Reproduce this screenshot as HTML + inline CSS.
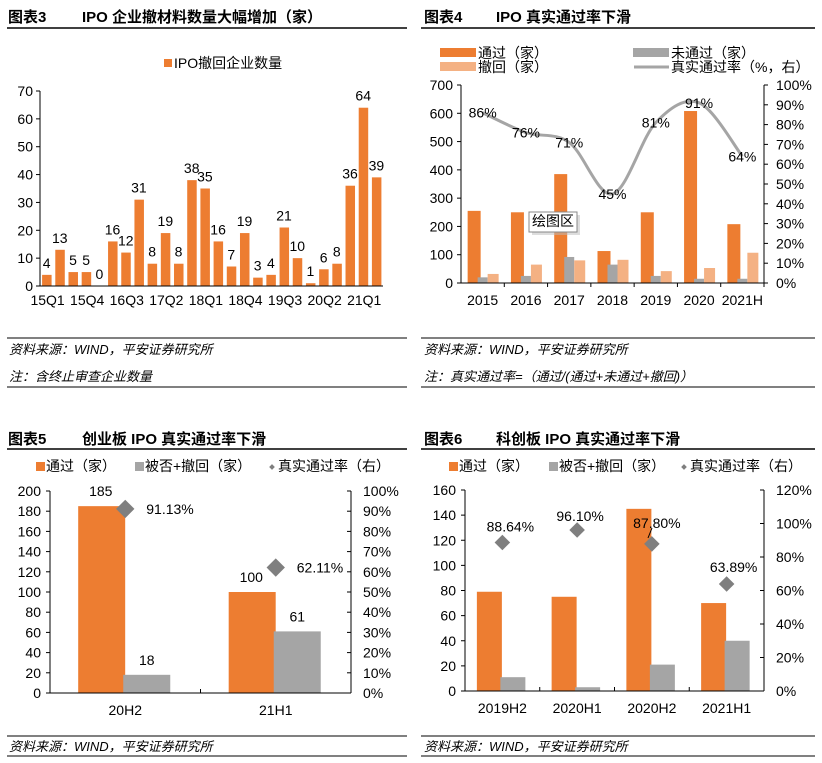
<!DOCTYPE html>
<html><head><meta charset="utf-8"><style>
html,body{margin:0;padding:0;background:#fff;}
svg{display:block;font-family:"Liberation Sans","Noto Sans CJK SC",sans-serif;}
.t{font-size:14px;fill:#000;}
.title{font-size:15px;font-weight:bold;fill:#000;}
.foot{font-size:13px;font-style:italic;fill:#000;}
</style></head><body>
<svg id="s" width="822" height="763" viewBox="0 0 822 763" xmlns="http://www.w3.org/2000/svg">
<g>
<text class="title" x="8" y="22">图表3</text><text class="title" x="82" y="22">IPO 企业撤材料数量大幅增加（家）</text>
<line x1="7" y1="28" x2="407" y2="28" stroke="#000" stroke-width="1.5"/>
<line x1="7" y1="338" x2="407" y2="338" stroke="#000"/>
<text class="foot" x="9" y="354">资料来源：WIND，平安证券研究所</text>
<text class="foot" x="9" y="381">注：含终止审查企业数量</text>
<line x1="7" y1="387" x2="407" y2="387" stroke="#000"/>
</g>
<g>
<text class="title" x="424" y="22">图表4</text><text class="title" x="496" y="22">IPO 真实通过率下滑</text>
<line x1="421" y1="28" x2="815" y2="28" stroke="#000" stroke-width="1.5"/>
<line x1="421" y1="338" x2="815" y2="338" stroke="#000"/>
<text class="foot" x="424" y="354">资料来源：WIND，平安证券研究所</text>
<text class="foot" x="424" y="381">注：真实通过率=（通过/(通过+未通过+撤回)）</text>
<line x1="421" y1="387" x2="815" y2="387" stroke="#000"/>
</g>
<g>
<text class="title" x="8" y="444">图表5</text><text class="title" x="82" y="444">创业板 IPO 真实通过率下滑</text>
<line x1="7" y1="449" x2="407" y2="449" stroke="#000" stroke-width="1.5"/>
<line x1="7" y1="736" x2="407" y2="736" stroke="#000"/>
<text class="foot" x="9" y="751">资料来源：WIND，平安证券研究所</text>
<line x1="7" y1="756" x2="407" y2="756" stroke="#000"/>
</g>
<g>
<text class="title" x="424" y="444">图表6</text><text class="title" x="496" y="444">科创板 IPO 真实通过率下滑</text>
<line x1="421" y1="449" x2="815" y2="449" stroke="#000" stroke-width="1.5"/>
<line x1="421" y1="736" x2="815" y2="736" stroke="#000"/>
<text class="foot" x="424" y="751">资料来源：WIND，平安证券研究所</text>
<line x1="421" y1="756" x2="815" y2="756" stroke="#000"/>
</g>
<g id="c3"></g>
<g id="c4"></g>
<g id="c5"></g>
<g id="c6"></g>
</svg>
<script>
// ---- chart 3 data ----
const c3Cats = ["15Q1","15Q2","15Q3","15Q4","16Q1","16Q2","16Q3","16Q4","17Q1","17Q2","17Q3","17Q4","18Q1","18Q2","18Q3","18Q4","19Q1","19Q2","19Q3","19Q4","20Q1","20Q2","20Q3","20Q4","21Q1","21Q2"];
const c3Vals = [4,13,5,5,0,16,12,31,8,19,8,38,35,16,7,19,3,4,21,10,1,6,8,36,64,39];
const c3Ticks = [0,10,20,30,40,50,60,70];
// ---- chart 4 data ----
const c4Cats = ["2015","2016","2017","2018","2019","2020","2021H"];
const c4Pass = [255,250,385,113,250,608,208];
const c4Fail = [20,25,92,65,25,15,15];
const c4Withdraw = [32,65,80,82,42,53,107];
const c4Rate = [86,76,71,45,81,91,64];
const c4Ticks = [0,100,200,300,400,500,600,700];
const c4RTicks = [0,10,20,30,40,50,60,70,80,90,100];
// ---- chart 5 data ----
const c5Cats = ["20H2","21H1"];
const c5Pass = [185,100];
const c5Reject = [18,61];
const c5Rate = [91.13,62.11];
const c5Ticks = [0,20,40,60,80,100,120,140,160,180,200];
const c5RTicks = [0,10,20,30,40,50,60,70,80,90,100];
// ---- chart 6 data ----
const c6Cats = ["2019H2","2020H1","2020H2","2021H1"];
const c6Pass = [79,75,145,70];
const c6Reject = [11,3,21,40];
const c6Rate = [88.64,96.10,87.80,63.89];
const c6Ticks = [0,20,40,60,80,100,120,140,160];
const c6RTicks = [0,20,40,60,80,100,120];

const NS="http://www.w3.org/2000/svg";
const OR="#ED7D31", GR="#A5A5A5", LT="#F4B183", DM="#7F7F7F";
function mk(p,tag,at,txt){const e=document.createElementNS(NS,tag);for(const k in at)e.setAttribute(k,at[k]);if(txt!==undefined)e.textContent=txt;p.appendChild(e);return e;}
function lin(d0,d1,r0,r1){return v=>r0+(v-d0)/(d1-d0)*(r1-r0);}

// ===== chart 3 =====
(function(){
const g=document.getElementById('c3');
const x0=40,x1=383,yb=286,yt=91;
const y=lin(0,70,yb,yt); const w=(x1-x0)/c3Cats.length;
const lg=mk(g,'rect',{x:164,y:59,width:8,height:8,fill:OR});


const lt=mk(g,'text',{class:'t',x:174,y:68,'font-size':'13'},'IPO撤回企业数量');


c3Ticks.forEach(t=>{const e=mk(g,'text',{class:'t',x:x0-7,y:y(t)+5,'text-anchor':'end'},t);

mk(g,'line',{x1:x0-4,x2:x0,y1:y(t),y2:y(t),stroke:'#000'});});
c3Vals.forEach((v,i)=>{const cx=x0+w*(i+0.5);
const r=mk(g,'rect',{x:cx-4.5,y:y(v),width:9.5,height:yb-y(v),fill:OR});

const l=mk(g,'text',{class:'t',x:cx,y:y(v)-7,'text-anchor':'middle'},v);

if(i%3===0){const c=mk(g,'text',{class:'t',x:cx+1,y:yb+19,'text-anchor':'middle'},c3Cats[i]);
}});
mk(g,'line',{x1:x0,x2:x0,y1:yt,y2:yb,stroke:'#000'});
mk(g,'line',{x1:x0,x2:x1,y1:yb,y2:yb,stroke:'#000'});
})();

// ===== chart 4 =====
(function(){
const g=document.getElementById('c4');
const x0=461,x1=764,yb=283,yt=85;
const y=lin(0,700,yb,yt), yr=lin(0,100,yb,yt); const w=(x1-x0)/c4Cats.length;
const legs=[[440,48,OR,'通过（家）','legend-passed'],[440,62,LT,'撤回（家）','legend-withdrawn'],[633,48,GR,'未通过（家）','legend-failed']];
legs.forEach(a=>{const r=mk(g,'rect',{x:a[0],y:a[1],width:36,height:9,fill:a[2]});

const t=mk(g,'text',{class:'t',x:a[0]+38,y:a[1]+10,'font-size':'13'},a[3]);
});
mk(g,'line',{x1:634,x2:669,y1:67,y2:67,stroke:GR,'stroke-width':3});
const lt=mk(g,'text',{class:'t',x:671,y:72,'font-size':'13'},'真实通过率（%，右）');

c4Ticks.forEach(t=>{const e=mk(g,'text',{class:'t',x:x0-8,y:y(t)+5,'text-anchor':'end'},t);

mk(g,'line',{x1:x0-4,x2:x0,y1:y(t),y2:y(t),stroke:'#000'});});
c4RTicks.forEach(t=>{const e=mk(g,'text',{class:'t',x:x1+12,y:yr(t)+5},t+'%');

mk(g,'line',{x1:x1,x2:x1+4,y1:yr(t),y2:yr(t),stroke:'#000'});});
const pts=[];
c4Cats.forEach((c,i)=>{const cx=x0+w*(i+0.5);
const a=mk(g,'rect',{x:cx-15,y:y(c4Pass[i]),width:13,height:yb-y(c4Pass[i]),fill:OR});

const b=mk(g,'rect',{x:cx-5,y:y(c4Fail[i]),width:10,height:yb-y(c4Fail[i]),fill:GR});

const d=mk(g,'rect',{x:cx+5,y:y(c4Withdraw[i]),width:11,height:yb-y(c4Withdraw[i]),fill:LT});

const t=mk(g,'text',{class:'t',x:cx,y:yb+22,'text-anchor':'middle'},c);

mk(g,'line',{x1:x0+w*(i+1),x2:x0+w*(i+1),y1:yb,y2:yb+4,stroke:'#000'});
pts.push([cx,yr(c4Rate[i])]);});
let dd='M'+pts[0][0]+','+pts[0][1];
for(let i=0;i<pts.length-1;i++){const p0=pts[Math.max(0,i-1)],p1=pts[i],p2=pts[i+1],p3=pts[Math.min(pts.length-1,i+2)];
dd+=` C${p1[0]+(p2[0]-p0[0])/6},${p1[1]+(p2[1]-p0[1])/6} ${p2[0]-(p3[0]-p1[0])/6},${p2[1]-(p3[1]-p1[1])/6} ${p2[0]},${p2[1]}`;}
const ln=mk(g,'path',{d:dd,fill:'none',stroke:GR,'stroke-width':3});

pts.forEach((p,i)=>{const t=mk(g,'text',{class:'t',x:p[0],y:p[1]+5,'text-anchor':'middle'},c4Rate[i]+'%');
});
mk(g,'line',{x1:x0,x2:x0,y1:yt,y2:yb,stroke:'#000'});
mk(g,'line',{x1:x1,x2:x1,y1:yt,y2:yb,stroke:'#000'});
mk(g,'line',{x1:x0,x2:x1,y1:yb,y2:yb,stroke:'#000'});
mk(g,'rect',{x:532,y:215,width:48,height:20,fill:'#bbb',opacity:0.5});
const tb=mk(g,'rect',{x:529,y:212,width:48,height:20,fill:'#fff',stroke:'#888'});

mk(g,'text',{class:'t',x:553,y:226,'text-anchor':'middle','font-size':'12',fill:'#444'},'绘图区');
})();

// ===== chart 5 & 6 (shared) =====
function combo(id,cats,pass,rej,rate,ticks,rticks,o){
const g=document.getElementById(id);
const {x0,x1,yb,yt,ymax,rmax,bw,lx}=o;
const y=lin(0,ymax,yb,yt), yr=lin(0,rmax,yb,yt); const w=(x1-x0)/cats.length;
const r1=mk(g,'rect',{x:lx[0],y:462,width:9,height:9,fill:OR});

const t1=mk(g,'text',{class:'t',x:lx[0]+10,y:471,'font-size':'13'},'通过（家）');

const r2=mk(g,'rect',{x:lx[1],y:462,width:9,height:9,fill:GR});

const t2=mk(g,'text',{class:'t',x:lx[1]+10,y:471,'font-size':'13'},'被否+撤回（家）');

const r3=mk(g,'rect',{x:lx[2]-2,y:465,width:4,height:4,fill:DM,transform:`rotate(45 ${lx[2]} 467)`});

const t3=mk(g,'text',{class:'t',x:lx[2]+6,y:471,'font-size':'13'},'真实通过率（右）');

ticks.forEach(t=>{const e=mk(g,'text',{class:'t',x:x0-9,y:y(t)+5,'text-anchor':'end'},t);

mk(g,'line',{x1:x0-4,x2:x0,y1:y(t),y2:y(t),stroke:'#000'});});
rticks.forEach(t=>{const e=mk(g,'text',{class:'t',x:x1+12,y:yr(t)+5},t+'%');

mk(g,'line',{x1:x1-4,x2:x1,y1:yr(t),y2:yr(t),stroke:'#000'});});
cats.forEach((c,i)=>{const cx=x0+w*(i+0.5);
const a=mk(g,'rect',{x:cx-bw*0.98-1,y:y(pass[i]),width:bw,height:yb-y(pass[i]),fill:OR});

const b=mk(g,'rect',{x:cx-2,y:y(rej[i]),width:bw,height:yb-y(rej[i]),fill:GR});

if(o.values){const l1=mk(g,'text',{class:'t',x:cx-bw/2-1,y:y(pass[i])-10,'text-anchor':'middle'},pass[i]);

const l2=mk(g,'text',{class:'t',x:cx+bw/2-2,y:y(rej[i])-10,'text-anchor':'middle'},rej[i]);
}
const ry=yr(rate[i]);
const d=mk(g,'rect',{x:cx-o.ds/2,y:ry-o.ds/2,width:o.ds,height:o.ds,fill:DM,transform:`rotate(45 ${cx} ${ry})`});

const rl=mk(g,'text',{class:'t',x:cx+o.rdx[i],y:ry+o.rdy[i],'text-anchor':o.ranchor},rate[i].toFixed(2)+'%');

const xl=mk(g,'text',{class:'t',x:cx,y:yb+22,'text-anchor':'middle'},c);

if(i<cats.length-1)mk(g,'line',{x1:x0+w*(i+1),x2:x0+w*(i+1),y1:yb,y2:yb-4,stroke:'#000'});});
mk(g,'line',{x1:x0,x2:x0,y1:yt,y2:yb,stroke:'#000'});
mk(g,'line',{x1:x1,x2:x1,y1:yt,y2:yb,stroke:'#000'});
mk(g,'line',{x1:x0,x2:x1,y1:yb,y2:yb,stroke:'#000'});
return g;}
combo('c5',c5Cats,c5Pass,c5Reject,c5Rate,c5Ticks,c5RTicks,{x0:50,x1:351,yb:693,yt:491,ymax:200,rmax:100,bw:47,lx:[36,135,272],values:true,ds:13,rdx:[21,21],rdy:[5,5],ranchor:'start'});
const g6=combo('c6',c6Cats,c6Pass,c6Reject,c6Rate,c6Ticks,c6RTicks,{x0:465,x1:764,yb:691,yt:490,ymax:160,rmax:120,bw:25,lx:[449,549,684],values:false,ds:11,rdx:[8,3,5,7],rdy:[-11,-9,-16,-12],ranchor:'middle'});
mk(g6,'line',{x1:652,y1:528,x2:648,y2:538,stroke:'#000'});
</script>
</body></html>
